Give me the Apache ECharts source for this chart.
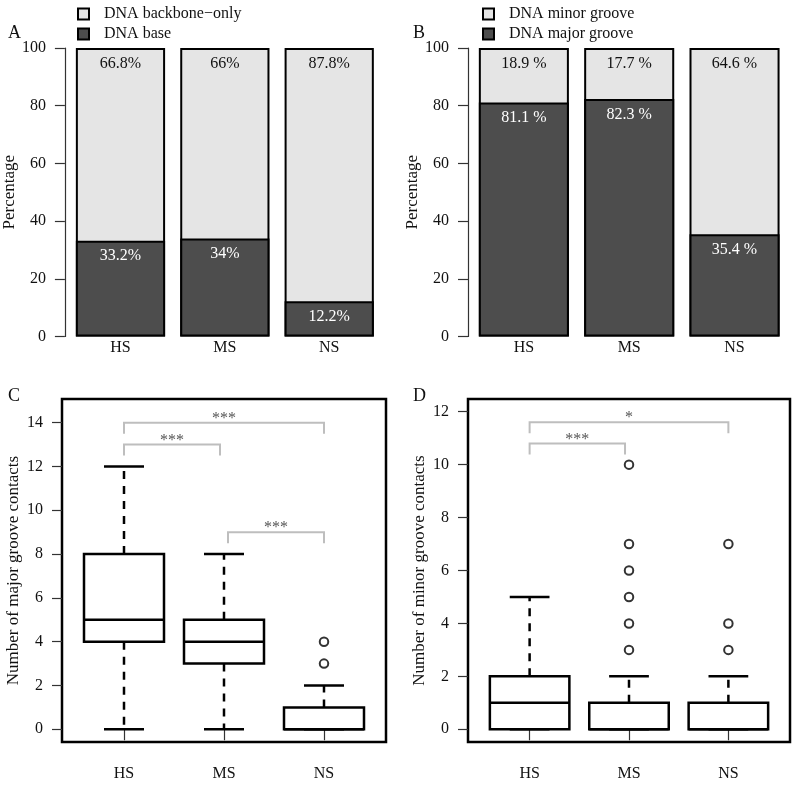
<!DOCTYPE html>
<html>
<head>
<meta charset="utf-8">
<script src="https://cdn.jsdelivr.net/npm/echarts@6/dist/echarts.min.js"></script>
<style>
  html, body { margin: 0; padding: 0; background: #fff; }
  #main { width: 800px; height: 785px; }
</style>
</head>
<body>
<div id="main"></div>
<script>
var groups = ['HS', 'MS', 'NS'];
var groupPos = [1, 2, 3];

// panel A
var baseShare = [33.2, 34, 12.2];
var backboneShare = [66.8, 66, 87.8];
// panel B
var majorShare = [81.1, 82.3, 35.4];
var minorShare = [18.9, 17.7, 64.6];

// boxplot stats: [position, low whisker, Q1, median, Q3, high whisker]
var majorStats = [[1, 0, 4, 5, 8, 12], [2, 0, 3, 4, 5, 8], [3, 0, 0, 0, 1, 2]];
var majorOutliers = [[3, 3], [3, 4]];
var minorStats = [[1, 0, 0, 1, 2, 5], [2, 0, 0, 0, 1, 2], [3, 0, 0, 0, 1, 2]];
var minorOutliers = [[2, 3], [2, 4], [2, 5], [2, 6], [2, 7], [2, 10], [3, 3], [3, 4], [3, 7]];

// significance brackets: [from, to, height, stars]
var majorTests = [[1, 3, 14, '***'], [1, 1.96, 13, '***'], [2.04, 3, 9, '***']];
var minorTests = [[1, 3, 11.6, '*'], [1, 1.96, 10.8, '***']];

var pctTicks = [0, 20, 40, 60, 80, 100];
var majorTicks = [0, 2, 4, 6, 8, 10, 12, 14];
var minorTicks = [0, 2, 4, 6, 8, 10, 12];

var serif = '"Liberation Serif", "DejaVu Serif", serif';
var txt = '#111';
var light = '#e5e5e5';
var dark = '#4d4d4d';

function renderBox(params, api) {
    var x = api.value(0);
    var lo = api.coord([x, api.value(1)]);
    var q1 = api.coord([x, api.value(2)]);
    var md = api.coord([x, api.value(3)]);
    var q3 = api.coord([x, api.value(4)]);
    var hi = api.coord([x, api.value(5)]);
    var w = api.size([0.8, 0])[0];
    var cx = q1[0];
    var solid = { stroke: '#000', lineWidth: 2.5, fill: null };
    var dashed = { stroke: '#000', lineWidth: 2.5, lineDash: [8, 7], fill: null };
    return {
        type: 'group',
        children: [
            { type: 'line', shape: { x1: cx, y1: q3[1], x2: cx, y2: hi[1] }, style: dashed },
            { type: 'line', shape: { x1: cx, y1: q1[1], x2: cx, y2: lo[1] }, style: dashed },
            { type: 'line', shape: { x1: cx - w / 4, y1: hi[1], x2: cx + w / 4, y2: hi[1] }, style: solid },
            { type: 'line', shape: { x1: cx - w / 4, y1: lo[1], x2: cx + w / 4, y2: lo[1] }, style: solid },
            { type: 'rect', shape: { x: cx - w / 2, y: q3[1], width: w, height: q1[1] - q3[1] },
              style: { stroke: '#000', lineWidth: 2.5, fill: '#fff' } },
            { type: 'line', shape: { x1: cx - w / 2, y1: md[1], x2: cx + w / 2, y2: md[1] }, style: solid }
        ]
    };
}

function bracketRenderer(tests) {
    return function (params, api) {
        var t = tests[params.dataIndex];
        var a = api.coord([t[0], t[2]]);
        var b = api.coord([t[1], t[2]]);
        var drop = 11;
        return {
            type: 'group',
            children: [
                { type: 'polyline', shape: { points: [[a[0], a[1] + drop], a, b, [b[0], b[1] + drop]] },
                  style: { stroke: '#bebebe', lineWidth: 2, fill: null } },
                { type: 'text', style: { text: t[3], x: (a[0] + b[0]) / 2, y: a[1] + 4,
                  textAlign: 'center', textVerticalAlign: 'bottom', fill: '#555',
                  font: '16px ' + serif } }
            ]
        };
    };
}

function pctAxis(idx, offset) {
    return {
        type: 'value', gridIndex: idx, min: 0, max: 100, interval: 20, offset: offset,
        name: 'Percentage', nameLocation: 'middle', nameGap: 37,
        nameTextStyle: { fontFamily: serif, fontSize: 17, color: txt },
        axisLine: { show: true, lineStyle: { color: '#333', width: 1.2 } },
        axisTick: { show: true, length: 10, lineStyle: { color: '#333', width: 1.2 } },
        axisLabel: { margin: 19, fontFamily: serif, fontSize: 16, color: txt,
                     customValues: pctTicks },
        splitLine: { show: false }
    };
}

function catAxis(idx) {
    return {
        type: 'category', gridIndex: idx, data: groups,
        axisLine: { show: false }, axisTick: { show: false },
        axisLabel: { margin: 3, fontFamily: serif, fontSize: 16, color: txt }
    };
}

function boxXAxis(idx) {
    return {
        type: 'value', gridIndex: idx, min: 0.38, max: 3.62,
        axisLine: { show: false },
        axisTick: { show: true, length: 11, customValues: groupPos,
                    lineStyle: { color: '#333', width: 1.2 } },
        axisLabel: { margin: 24, fontFamily: serif, fontSize: 16, color: txt,
                     customValues: groupPos,
                     formatter: function (v) { return groups[Math.round(v) - 1]; } },
        splitLine: { show: false }
    };
}

function boxYAxis(idx, min, max, ticks, name) {
    return {
        type: 'value', gridIndex: idx, min: min, max: max,
        name: name, nameLocation: 'middle', nameGap: 40,
        nameTextStyle: { fontFamily: serif, fontSize: 17, color: txt },
        axisLine: { show: false },
        axisTick: { show: true, length: 10, customValues: ticks,
                    lineStyle: { color: '#333', width: 1.2 } },
        axisLabel: { margin: 19, fontFamily: serif, fontSize: 16, color: txt,
                     customValues: ticks },
        splitLine: { show: false }
    };
}

// the light (upper) share is drawn as a full-height bar behind the dark one,
// so the boundary between the two parts gets a single border line
function shareBars(lowName, highName, idx, low, high, fmt) {
    var total = low.map(function (v, i) { return v + high[i]; });
    var common = { type: 'bar', xAxisIndex: idx, yAxisIndex: idx,
                   barGap: '-100%', barCategoryGap: '14.5%' };
    return [
        Object.assign({}, common, {
            name: highName, data: total,
            itemStyle: { color: light, borderColor: '#000', borderWidth: 2 },
            label: { show: true, position: 'insideTop', distance: 7.5,
                     formatter: function (p) { return fmt(high[p.dataIndex]); },
                     fontFamily: serif, fontSize: 16, color: txt }
        }),
        Object.assign({}, common, {
            name: lowName, data: low,
            itemStyle: { color: dark, borderColor: '#000', borderWidth: 2 },
            label: { show: true, position: 'insideTop', distance: 7.5,
                     formatter: function (p) { return fmt(low[p.dataIndex]); },
                     fontFamily: serif, fontSize: 16, color: '#fff' }
        })
    ];
}

function legendAt(left, names) {
    return {
        orient: 'vertical', left: left, top: 6, itemGap: 4, padding: 0,
        icon: 'rect', itemWidth: 11, itemHeight: 11, selectedMode: false,
        data: names,
        textStyle: { fontFamily: serif, fontSize: 16, color: txt, lineHeight: 16,
                     padding: [0, 0, 0, 10] }
    };
}

function letter(t, left, top) {
    return { text: t, left: left, top: top, padding: 0,
             textStyle: { fontFamily: serif, fontSize: 18, fontWeight: 'normal', color: txt } };
}

var option = {
    backgroundColor: '#fff',
    animation: false,
    title: [letter('A', 8, 24), letter('B', 413, 24), letter('C', 8, 387), letter('D', 413, 387)],
    legend: [
        legendAt(77, ['DNA backbone−only', 'DNA base']),
        legendAt(482, ['DNA minor groove', 'DNA major groove'])
    ],
    grid: [
        { left: 65.4, top: 48, width: 316, height: 288.5 },
        { left: 471.2, top: 48, width: 316, height: 288.5 },
        { left: 62, top: 399, width: 324, height: 343, show: true,
          borderColor: '#000', borderWidth: 2.5, backgroundColor: 'transparent' },
        { left: 468, top: 399, width: 322, height: 343, show: true,
          borderColor: '#000', borderWidth: 2.5, backgroundColor: 'transparent' }
    ],
    xAxis: [catAxis(0), catAxis(1), boxXAxis(2), boxXAxis(3)],
    yAxis: [
        pctAxis(0, 3.4),
        pctAxis(1, 3.2),
        boxYAxis(2, -0.58, 15.08, majorTicks, 'Number of major groove contacts'),
        boxYAxis(3, -0.48, 12.48, minorTicks, 'Number of minor groove contacts')
    ],
    series: [].concat(
        shareBars('DNA base', 'DNA backbone−only', 0, baseShare, backboneShare,
                  function (v) { return v + '%'; }),
        shareBars('DNA major groove', 'DNA minor groove', 1, majorShare, minorShare,
                  function (v) { return v + ' %'; }),
        [
            { type: 'custom', xAxisIndex: 2, yAxisIndex: 2, data: majorStats,
              encode: { x: 0, y: [1, 2, 3, 4, 5] }, renderItem: renderBox },
            { type: 'custom', xAxisIndex: 3, yAxisIndex: 3, data: minorStats,
              encode: { x: 0, y: [1, 2, 3, 4, 5] }, renderItem: renderBox },
            { type: 'scatter', xAxisIndex: 2, yAxisIndex: 2, data: majorOutliers,
              symbol: 'emptyCircle', symbolSize: 8.5,
              itemStyle: { color: '#000', borderColor: '#000', borderWidth: 2.5 } },
            { type: 'scatter', xAxisIndex: 3, yAxisIndex: 3, data: minorOutliers,
              symbol: 'emptyCircle', symbolSize: 8.5,
              itemStyle: { color: '#000', borderColor: '#000', borderWidth: 2.5 } },
            { type: 'custom', xAxisIndex: 2, yAxisIndex: 2,
              data: majorTests.map(function (t) { return [t[0], t[2]]; }),
              renderItem: bracketRenderer(majorTests) },
            { type: 'custom', xAxisIndex: 3, yAxisIndex: 3,
              data: minorTests.map(function (t) { return [t[0], t[2]]; }),
              renderItem: bracketRenderer(minorTests) }
        ]
    )
};

var myChart = echarts.init(document.getElementById('main'));
myChart.setOption(option);
</script>
</body>
</html>
